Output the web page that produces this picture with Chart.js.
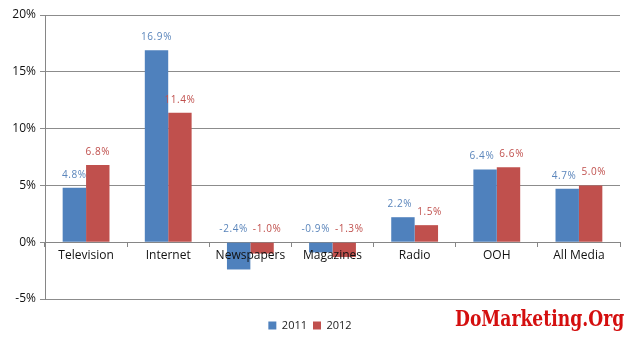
<!DOCTYPE html>
<html>
<head>
<meta charset="utf-8">
<script src="https://cdn.jsdelivr.net/npm/chart.js@4/dist/chart.umd.min.js"></script>
<style>
html,body{margin:0;padding:0;background:#fff;}
#wrap{position:relative;width:630px;height:337px;overflow:hidden;}
#wm{position:absolute;left:455px;top:305px;font-family:"DejaVu Serif",serif;font-weight:bold;font-size:22px;color:#d40f0f;white-space:nowrap;transform:scaleX(0.78);transform-origin:0 0;}
</style>
</head>
<body>
<div id="wrap">
<canvas id="c" width="630" height="337"></canvas>
<div id="wm">DoMarketing.Org</div>
</div>
<script>
const categories = ["Television","Internet","Newspapers","Magazines","Radio","OOH","All Media"];
const series2011 = [4.8, 16.9, -2.4, -0.9, 2.2, 6.4, 4.7];
const series2012 = [6.8, 11.4, -1.0, -1.3, 1.5, 6.6, 5.0];
const seriesNames = ["2011","2012"];
const yTicks = [-5, 0, 5, 10, 15, 20];

const BLUE = "#4f81bd", RED = "#c0504d";
const FONT = "'Open Sans', 'DejaVu Sans', sans-serif";

const labelPlugin = {
  id: "barLabels",
  afterLayout(chart) {
    const lg = chart.legend;
    if (lg) { lg.top += 15; lg.bottom += 15; }
  },
  afterDatasetsDraw(chart) {
    const ctx = chart.ctx;
    const zeroY = chart.scales.y.getPixelForValue(0);
    ctx.save();
    ctx.font = "10px " + FONT;
    try { ctx.letterSpacing = "0.6px"; } catch (e) {}
    ctx.textAlign = "center";
    ctx.textBaseline = "middle";
    const labels = chart.data.datasets.map((ds, i) => {
      const meta = chart.getDatasetMeta(i);
      return meta.data.map((bar, j) => {
        const text = ds.data[j].toFixed(1) + "%";
        const w = ctx.measureText(text).width;
        return {text, x: bar.x, y: Math.min(bar.y, zeroY) - 13, w, color: ds.labelColor};
      });
    });
    // simple collision avoidance between paired labels
    if (labels.length === 2) {
      labels[0].forEach((a, j) => {
        const b = labels[1][j];
        if (Math.abs(a.y - b.y) < 11) {
          const overlap = (a.x + a.w / 2 + 5) - (b.x - b.w / 2);
          if (overlap > 0) { a.x -= overlap / 2; b.x += overlap / 2; }
        }
      });
    }
    labels.forEach(list => list.forEach(l => {
      ctx.fillStyle = l.color;
      ctx.fillText(l.text, l.x, l.y);
    }));
    ctx.restore();
  }
};

new Chart(document.getElementById("c"), {
  type: "bar",
  data: {
    labels: categories,
    datasets: [
      {label: seriesNames[0], data: series2011, backgroundColor: BLUE, labelColor: "#5a85bb"},
      {label: seriesNames[1], data: series2012, backgroundColor: RED, labelColor: "#c0504d"}
    ]
  },
  options: {
    responsive: false,
    animation: false,
    layout: {padding: {top: 15, right: 10, bottom: 11, left: 0}},
    datasets: {bar: {categoryPercentage: 0.57, barPercentage: 1.0}},
    plugins: {
      legend: {
        position: "bottom",
        labels: {
          font: {family: FONT, size: 11},
          color: "#222",
          boxWidth: 8, boxHeight: 8,
          padding: 6
        }
      },
      tooltip: {enabled: false}
    },
    scales: {
      x: {
        position: {y: 0},
        grid: {display: true, drawOnChartArea: false, offset: true, tickLength: 4, color: "#868686"},
        border: {display: true, color: "#868686"},
        ticks: {z: 1, font: {family: FONT, size: 12}, color: "#111", padding: 2, maxRotation: 0}
      },
      y: {
        min: -5, max: 20,
        afterBuildTicks(scale) { scale.ticks = yTicks.map(v => ({value: v})); },
        afterFit(scale) { scale.width = 45; },
        grid: {color: "#8c8c8c", tickLength: 5},
        border: {display: true, color: "#868686"},
        ticks: {font: {family: FONT, size: 12}, color: "#111", padding: 4, callback: v => v + "%"}
      }
    }
  },
  plugins: [labelPlugin]
});
</script>
</body>
</html>
